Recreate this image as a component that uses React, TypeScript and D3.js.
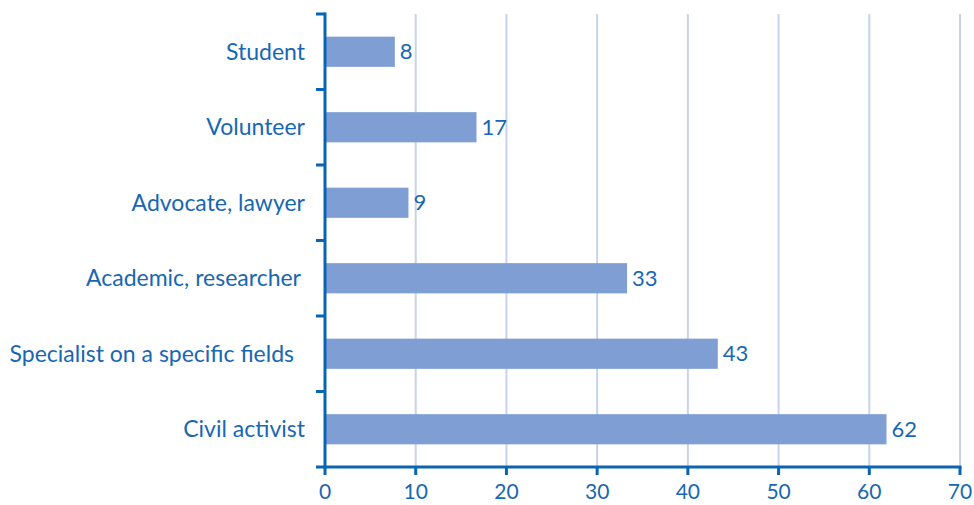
import React, { useEffect, useRef } from "react";
import * as d3 from "d3";

// categories top to bottom
const categories = [
  "Student",
  "Volunteer",
  "Advocate, lawyer",
  "Academic, researcher",
  "Specialist on a specific fields",
  "Civil activist",
];
const values = [7.7, 16.7, 9.2, 33.3, 43.3, 61.9];
const xTicks = [0, 10, 20, 30, 40, 50, 60, 70];

const App = () => {
  const ref = useRef<SVGSVGElement>(null);

  useEffect(() => {
    const svg = d3.select(ref.current);
    svg.selectAll("*").remove();

    const width = 974;
    const height = 505;
    const left = 325;
    const right = 960;
    const top = 14;
    const bottom = 467;
    const textColor = "#1767b3";
    const axisColor = "#0b64b2";
    const font = "Lato, 'Open Sans', sans-serif";

    svg.attr("width", width).attr("height", height);

    const x = d3.scaleLinear().domain([0, 70]).range([left, right]);
    const y = d3.scaleBand().domain(categories).range([top, bottom]).paddingInner(0.6).paddingOuter(0.3);
    const band = d3.scaleBand().domain(categories).range([top, bottom]);

    // gridlines
    svg
      .append("g")
      .selectAll("line")
      .data(xTicks.slice(1))
      .join("line")
      .attr("x1", (d) => x(d))
      .attr("x2", (d) => x(d))
      .attr("y1", top)
      .attr("y2", bottom)
      .attr("stroke", "#c9d2ea")
      .attr("stroke-width", 2);

    // bars
    svg
      .append("g")
      .selectAll("rect")
      .data(values)
      .join("rect")
      .attr("x", x(0))
      .attr("y", (d, i) => y(categories[i])!)
      .attr("width", (d) => x(d) - x(0))
      .attr("height", y.bandwidth())
      .attr("fill", "#7f9fd4");

    // value labels
    svg
      .append("g")
      .selectAll("text")
      .data(values)
      .join("text")
      .attr("x", (d) => x(d) + 5)
      .attr("y", (d, i) => y(categories[i])! + y.bandwidth() / 2)
      .attr("dy", "0.35em")
      .attr("fill", textColor)
      .attr("font-family", font)
      .attr("font-size", 22)
      .text((d) => d3.format(".0f")(d));

    // category labels
    svg
      .append("g")
      .selectAll("text")
      .data(categories)
      .join("text")
      .attr("x", (d) => (d.startsWith("Specialist") ? 294 : d.startsWith("Academic") ? 301 : 305))
      .attr("y", (d) => y(d)! + y.bandwidth() / 2)
      .attr("dy", "0.35em")
      .attr("text-anchor", "end")
      .attr("fill", textColor)
      .attr("font-family", font)
      .attr("font-size", 23)
      .text((d) => d);

    // y axis line + ticks at band boundaries
    const ax = svg.append("g").attr("stroke", axisColor).attr("stroke-width", 3);
    ax.append("line").attr("x1", left).attr("x2", left).attr("y1", top - 1.5).attr("y2", bottom + 1.5);
    const bounds = categories.map((c) => band(c)!).concat([bottom]);
    ax.selectAll("line.yt")
      .data(bounds)
      .join("line")
      .attr("class", "yt")
      .attr("x1", left - 9)
      .attr("x2", left)
      .attr("y1", (d) => d)
      .attr("y2", (d) => d);

    // x axis line + ticks
    ax.append("line").attr("x1", left - 1.5).attr("x2", right + 1.5).attr("y1", bottom).attr("y2", bottom);
    ax.selectAll("line.xt")
      .data(xTicks)
      .join("line")
      .attr("class", "xt")
      .attr("x1", (d) => x(d))
      .attr("x2", (d) => x(d))
      .attr("y1", bottom)
      .attr("y2", bottom + 8);

    svg
      .append("g")
      .selectAll("text")
      .data(xTicks)
      .join("text")
      .attr("x", (d) => x(d))
      .attr("y", 499)
      .attr("text-anchor", "middle")
      .attr("fill", textColor)
      .attr("font-family", font)
      .attr("font-size", 21)
      .text((d) => d);
  }, []);

  return <svg ref={ref} style={{ position: "absolute", left: 0, top: 0 }}></svg>;
};

export default App;
